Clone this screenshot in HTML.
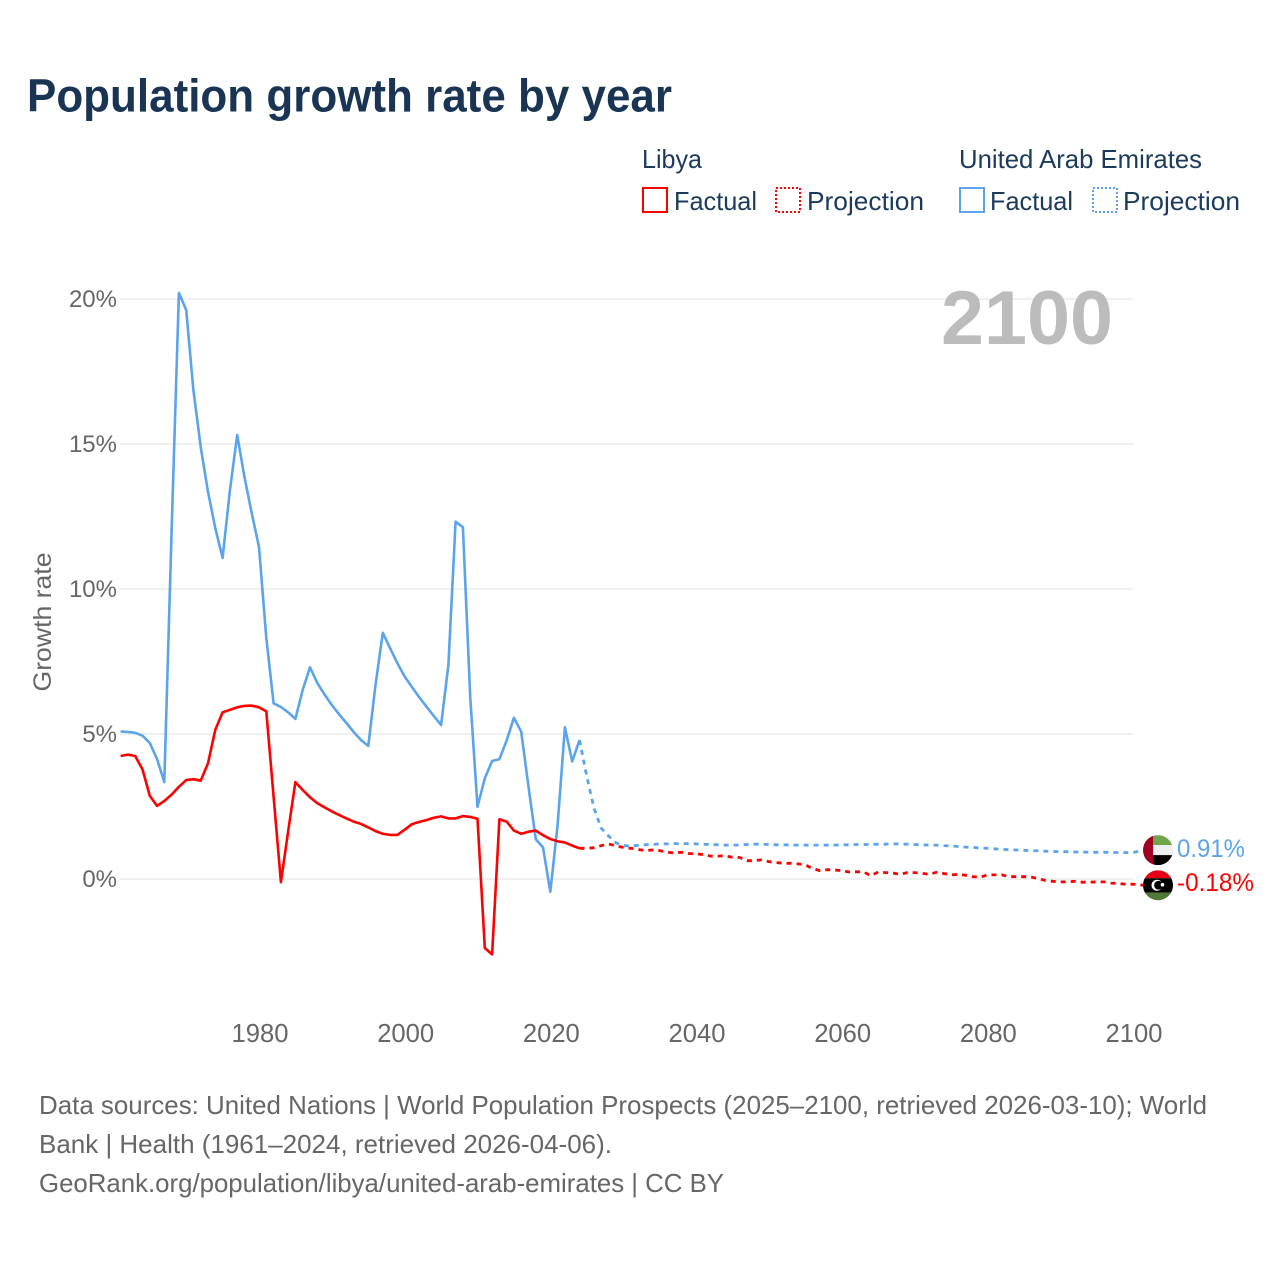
<!DOCTYPE html>
<html lang="en">
<head>
<meta charset="utf-8">
<title>Population growth rate by year</title>
<style>
html,body{margin:0;padding:0;background:#fff;width:1280px;height:1280px;overflow:hidden}
svg{display:block}
text{font-family:"Liberation Sans",sans-serif}
</style>
</head>
<body>
<svg id="chart" xmlns="http://www.w3.org/2000/svg" width="1280" height="1280" viewBox="0 0 1280 1280">
  <rect x="0" y="0" width="1280" height="1280" fill="#ffffff"/>
  <text x="27" y="111.500" font-size="46" font-weight="700" fill="#1a3454" textLength="645" lengthAdjust="spacingAndGlyphs">Population growth rate by year</text>

  <g font-size="26" fill="#1b3a5c">
    <text x="642" y="168" textLength="60" lengthAdjust="spacingAndGlyphs">Libya</text>
    <rect x="643" y="188" width="24" height="24" fill="none" stroke="#ff0000" stroke-width="2"/>
    <text x="674" y="210" textLength="83" lengthAdjust="spacingAndGlyphs">Factual</text>
    <rect x="776" y="188" width="24" height="24" fill="none" stroke="#ff0000" stroke-width="2" stroke-dasharray="2 2"/>
    <text x="807" y="210" textLength="117" lengthAdjust="spacingAndGlyphs">Projection</text>
    <text x="959" y="168" textLength="243" lengthAdjust="spacingAndGlyphs">United Arab Emirates</text>
    <rect x="960" y="188" width="24" height="24" fill="none" stroke="#5ba4ec" stroke-width="2"/>
    <text x="990" y="210" textLength="83" lengthAdjust="spacingAndGlyphs">Factual</text>
    <rect x="1093" y="188" width="24" height="24" fill="none" stroke="#5ba4ec" stroke-width="2" stroke-dasharray="2 2"/>
    <text x="1123" y="210" textLength="117" lengthAdjust="spacingAndGlyphs">Projection</text>
  </g>

  <g id="grid"></g>
  <g id="yticks" font-size="24" fill="#666666"></g>
  <g id="xticks" font-size="25.600" fill="#666666"></g>
  <text x="1113" y="344" text-anchor="end" font-size="76" font-weight="700" fill="#bcbcbc" textLength="172" lengthAdjust="spacingAndGlyphs">2100</text>
  <text transform="translate(51 622) rotate(-90)" text-anchor="middle" font-size="25" fill="#666666" textLength="139" lengthAdjust="spacingAndGlyphs">Growth rate</text>

  <g id="series"></g>

  <g id="flag-uae">
    <clipPath id="clip-uae"><circle cx="0" cy="0" r="15"/></clipPath>
    <g clip-path="url(#clip-uae)">
      <rect x="-15" y="-15" width="30" height="10" fill="#6ea44a"/>
      <rect x="-15" y="-5" width="30" height="10" fill="#efefef"/>
      <rect x="-15" y="5" width="30" height="10" fill="#000000"/>
      <rect x="-15" y="-15" width="10" height="30" fill="#a00024"/>
    </g>
  </g>
  <g id="flag-libya">
    <clipPath id="clip-libya"><circle cx="0" cy="0" r="15"/></clipPath>
    <g clip-path="url(#clip-libya)">
      <rect x="-15" y="-15" width="30" height="8" fill="#e70013"/>
      <rect x="-15" y="-7" width="30" height="14.500" fill="#000000"/>
      <rect x="-15" y="7.500" width="30" height="8" fill="#4f7a36"/>
      <circle cx="-1" cy="0" r="5.500" fill="#ffffff"/>
      <circle cx="0.500" cy="0" r="4.400" fill="#000000"/>
      <circle cx="4.500" cy="-0.500" r="1.800" fill="#ffffff"/>
    </g>
  </g>
  <text id="label-uae" x="1177" y="857" font-size="25" fill="#5ba4ec" textLength="68" lengthAdjust="spacingAndGlyphs"></text>
  <text id="label-libya" x="1177" y="891" font-size="25" fill="#ff0000" textLength="77" lengthAdjust="spacingAndGlyphs"></text>

  <g font-size="26" fill="#666666">
    <text x="39" y="1114" textLength="1168" lengthAdjust="spacingAndGlyphs">Data sources: United Nations | World Population Prospects (2025–2100, retrieved 2026-03-10); World</text>
    <text x="39" y="1153" textLength="573" lengthAdjust="spacingAndGlyphs">Bank | Health (1961–2024, retrieved 2026-04-06).</text>
    <text x="39" y="1192" textLength="685" lengthAdjust="spacingAndGlyphs">GeoRank.org/population/libya/united-arab-emirates | CC BY</text>
  </g>
</svg>
<script>
const xTickYears = [1980, 2000, 2020, 2040, 2060, 2080, 2100];
const yTickValues = [0, 5, 10, 15, 20];
const factualStartYear = 1961;
const projectionStartYear = 2024;
const libyaFactual = [4.24,4.29,4.24,3.78,2.87,2.52,2.69,2.91,3.18,3.41,3.44,3.39,3.99,5.14,5.75,5.83,5.92,5.97,5.98,5.92,5.78,2.84,-0.11,1.63,3.34,3.07,2.82,2.61,2.47,2.33,2.21,2.09,1.98,1.9,1.78,1.65,1.56,1.52,1.52,1.7,1.89,1.97,2.03,2.11,2.16,2.09,2.09,2.17,2.14,2.08,-2.38,-2.6,2.06,1.98,1.67,1.56,1.63,1.67,1.51,1.38,1.3,1.26,1.15,1.06];
const uaeFactual = [5.09,5.07,5.04,4.94,4.69,4.14,3.34,12.0,20.21,19.62,16.86,14.9,13.35,12.1,11.07,13.4,15.31,13.87,12.62,11.45,8.31,6.06,5.93,5.75,5.52,6.52,7.3,6.76,6.36,6.0,5.68,5.38,5.07,4.79,4.59,6.69,8.49,7.96,7.44,6.98,6.62,6.27,5.94,5.62,5.31,7.38,12.32,12.13,6.29,2.49,3.47,4.07,4.13,4.77,5.56,5.08,3.18,1.37,1.09,-0.44,1.86,5.23,4.05,4.79];
const libyaProjection = [1.06,1.06,1.08,1.15,1.21,1.14,1.09,1.06,1.02,0.98,1.0,0.98,0.92,0.9,0.92,0.88,0.87,0.84,0.79,0.79,0.8,0.75,0.74,0.63,0.63,0.66,0.6,0.57,0.54,0.54,0.52,0.49,0.36,0.29,0.32,0.31,0.29,0.24,0.25,0.25,0.11,0.24,0.22,0.21,0.16,0.22,0.22,0.2,0.16,0.23,0.19,0.14,0.16,0.13,0.08,0.06,0.14,0.14,0.14,0.08,0.08,0.08,0.07,0.01,-0.05,-0.08,-0.1,-0.1,-0.08,-0.11,-0.11,-0.1,-0.1,-0.14,-0.16,-0.18,-0.18];
const uaeProjection = [4.79,3.53,2.44,1.75,1.48,1.25,1.15,1.14,1.16,1.18,1.19,1.21,1.21,1.22,1.22,1.22,1.21,1.2,1.19,1.18,1.17,1.17,1.17,1.19,1.2,1.2,1.19,1.18,1.18,1.17,1.17,1.17,1.17,1.17,1.17,1.17,1.18,1.18,1.19,1.19,1.19,1.2,1.2,1.21,1.21,1.2,1.19,1.18,1.17,1.17,1.15,1.14,1.12,1.1,1.09,1.07,1.06,1.04,1.02,1.01,1.0,0.99,0.98,0.97,0.96,0.95,0.94,0.94,0.93,0.93,0.92,0.92,0.92,0.92,0.91,0.91,0.91];

const SVG_NS = 'http://www.w3.org/2000/svg';
function xScale(year) { return 259 + (year - 1980) * (874 / 120); }
function yScale(value) { return 879 - value * 29; }
function linePath(startYear, values) {
  return values.map(function (v, i) {
    return (i ? 'L' : 'M') + xScale(startYear + i).toFixed(1) + ' ' + yScale(v).toFixed(1);
  }).join(' ');
}
const gridGroup = document.getElementById('grid');
const yTickGroup = document.getElementById('yticks');
const xTickGroup = document.getElementById('xticks');
const seriesGroup = document.getElementById('series');

yTickValues.forEach(function (v) {
  const line = document.createElementNS(SVG_NS, 'line');
  
  
  line.setAttribute('x1', 120);
  line.setAttribute('x2', 1133);
  line.setAttribute('y1', yScale(v));
  line.setAttribute('y2', yScale(v));
  line.setAttribute('stroke', '#f0f0f0');
  line.setAttribute('stroke-width', 2);
  gridGroup.appendChild(line);
  const label = document.createElementNS(SVG_NS, 'text');
  
  
  label.setAttribute('x', 117);
  label.setAttribute('y', yScale(v) + 8);
  label.setAttribute('text-anchor', 'end');
  label.textContent = v + '%';
  yTickGroup.appendChild(label);
});

xTickYears.forEach(function (year) {
  const label = document.createElementNS(SVG_NS, 'text');
  
  
  label.setAttribute('x', xScale(year) + 1);
  label.setAttribute('y', 1042);
  label.setAttribute('text-anchor', 'middle');
  label.textContent = year;
  xTickGroup.appendChild(label);
});

function drawLine(name, startYear, values, color, dashed, extra) {
  const path = document.createElementNS(SVG_NS, 'path');
  
  
  path.setAttribute('d', linePath(startYear, values) + (extra || ''));
  path.setAttribute('fill', 'none');
  path.setAttribute('stroke', color);
  path.setAttribute('stroke-width', dashed ? 2.8 : 2.6);
  path.setAttribute('stroke-linejoin', 'round');
  if (dashed) path.setAttribute('stroke-dasharray', '5 5');
  seriesGroup.appendChild(path);
}

const uaeEnd = uaeProjection[uaeProjection.length - 1];
const libyaEnd = libyaProjection[libyaProjection.length - 1];
const uaeFlagY = yScale(uaeEnd) - 2.5;
const libyaFlagY = yScale(libyaEnd) + 1;
drawLine('line-uae-projection', projectionStartYear, uaeProjection, '#5ba4ec', true, ' L1143 ' + uaeFlagY.toFixed(1));
drawLine('line-libya-projection', projectionStartYear, libyaProjection, '#ff0000', true, ' L1143 ' + libyaFlagY.toFixed(1));
drawLine('line-uae-factual', factualStartYear, uaeFactual, '#5ba4ec', false);
drawLine('line-libya-factual', factualStartYear, libyaFactual, '#ff0000', false);

document.getElementById('flag-uae').setAttribute('transform', 'translate(1158 ' + uaeFlagY + ')');
document.getElementById('flag-libya').setAttribute('transform', 'translate(1158 ' + libyaFlagY + ')');
document.getElementById('label-uae').textContent = uaeEnd.toFixed(2) + '%';
document.getElementById('label-uae').setAttribute('y', uaeFlagY + 7);
document.getElementById('label-libya').textContent = libyaEnd.toFixed(2) + '%';
document.getElementById('label-libya').setAttribute('y', libyaFlagY + 6);
</script>
</body>
</html>
